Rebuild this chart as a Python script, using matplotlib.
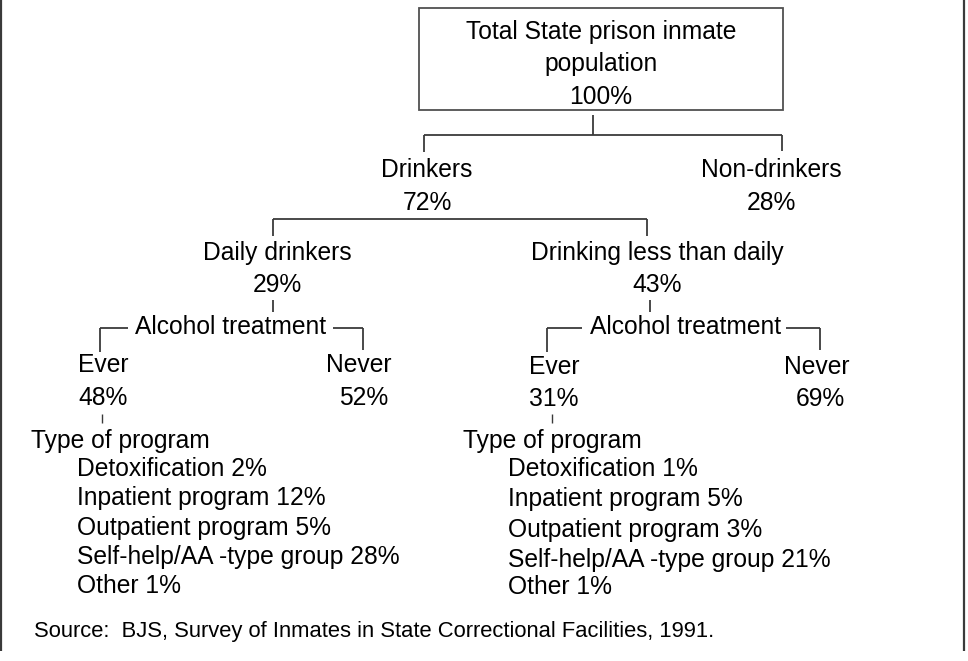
import matplotlib

matplotlib.use("Agg")
import matplotlib.pyplot as plt

# tree content
root_label = "Total State prison inmate\npopulation"
root_pct = 100
level1_labels = ["Drinkers", "Non-drinkers"]
level1_pcts = [72, 28]
level2_labels = ["Daily drinkers", "Drinking less than daily"]
level2_pcts = [29, 43]
treatment_labels = ["Ever", "Never"]
treatment_pcts = [[48, 52], [31, 69]]
program_types = ["Detoxification", "Inpatient program", "Outpatient program",
                 "Self-help/AA -type group", "Other"]
program_pcts = [[2, 12, 5, 28, 1], [1, 5, 3, 21, 1]]
source_note = "Source:  BJS, Survey of Inmates in State Correctional Facilities, 1991."

FONT = "Liberation Sans"
FS = 17.7
LINE = "#3a3a3a"
W, H = 968, 661

fig = plt.figure(figsize=(W / 100, H / 100), dpi=100)
ax = fig.add_axes([0, 0, 1, 1])
ax.set_xlim(0, W)
ax.set_ylim(H, 0)
ax.axis("off")


def txt(x, y, s, ha="center", size=FS):
    ax.text(x, y, s, ha=ha, va="center", fontsize=size, family=FONT, color="black")


def seg(xs, ys, lw=1.3):
    ax.plot(xs, ys, color=LINE, lw=lw, solid_capstyle="butt")


# side frame lines
seg([1, 1], [0, 651], lw=1.6)
seg([964, 964], [0, 651], lw=1.6)

# root box
ax.add_patch(plt.Rectangle((419, 8), 364, 102, fill=False, ec="#505050", lw=1.3))
root_lines = root_label.split("\n") + [f"{root_pct}%"]
for i, s in enumerate(root_lines):
    txt(601, 32 + 32.5 * i, s)

# root -> level 1
seg([593, 593], [115, 135])
seg([424, 782], [135, 135])
seg([424, 424], [135, 152])
seg([782, 782], [135, 151])
l1_x = [427, 771]
for x, lab, p in zip(l1_x, level1_labels, level1_pcts):
    txt(x, 170, lab)
    txt(x, 203, f"{p}%")

# drinkers -> level 2
seg([273, 647], [219, 219])
seg([273, 273], [219, 236])
seg([647, 647], [219, 236])
l2_x = [277, 657]
for x, lab, p in zip(l2_x, level2_labels, level2_pcts):
    txt(x, 253, lab)
    txt(x, 285, f"{p}%")

# alcohol treatment brackets, one per level-2 branch
branches = [
    dict(stem=273, left=100, right=363, tl=128, tr=333, text_x=135, ever_x=78,
         never_x=392, tick=102, type_x=31, list_x=77, ys=[365, 398],
         list_y=[469, 498, 528, 557, 586]),
    dict(stem=650, left=547, right=820, tl=582, tr=786, text_x=590, ever_x=529,
         never_x=849, tick=552, type_x=463, list_x=508, ys=[367, 399],
         list_y=[469, 499, 530, 560, 587]),
]
for b, pcts, progs in zip(branches, treatment_pcts, program_pcts):
    seg([b["stem"], b["stem"]], [300, 312])
    seg([b["left"], b["tl"]], [328, 328])
    seg([b["tr"], b["right"]], [328, 328])
    seg([b["left"], b["left"]], [328, 352])
    seg([b["right"], b["right"]], [328, 350])
    txt(b["text_x"], 327, "Alcohol treatment", ha="left")
    txt(b["ever_x"], b["ys"][0], treatment_labels[0], ha="left")
    txt(b["ever_x"], b["ys"][1], f"{pcts[0]}%", ha="left")
    txt(b["never_x"], b["ys"][0], treatment_labels[1], ha="right")
    txt(b["never_x"] - 4, b["ys"][1], f"{pcts[1]}%", ha="right")
    seg([b["tick"], b["tick"]], [414, 423], lw=1.0)
    txt(b["type_x"], 441, "Type of program", ha="left")
    for y, name, p in zip(b["list_y"], program_types, progs):
        txt(b["list_x"], y, f"{name} {p}%", ha="left")

txt(34, 632, source_note, ha="left", size=15.8)

fig.savefig("out.png", dpi=100)
